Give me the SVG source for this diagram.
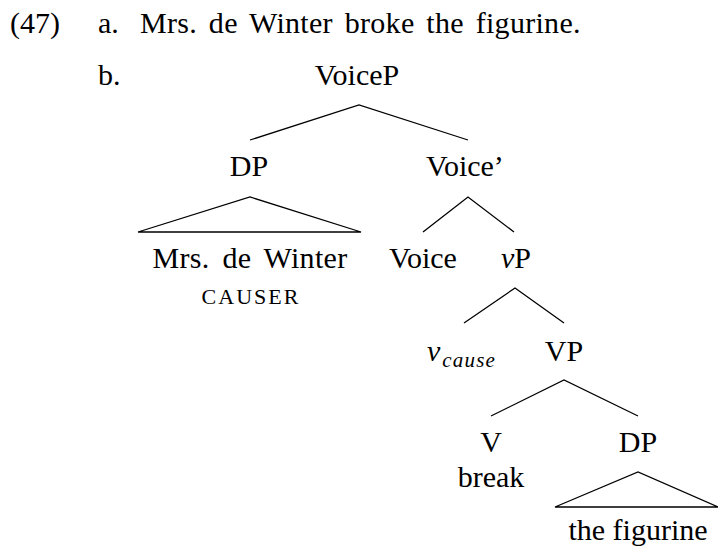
<svg xmlns="http://www.w3.org/2000/svg" width="718" height="548" viewBox="0 0 718 548">
  <style>
    text { font-family: "Liberation Serif", "Times New Roman", serif; font-size: 30px; fill: #000; }
    .c { text-anchor: middle; }
    .it { font-style: italic; }
    .sc { font-size: 22px; letter-spacing: 2px; }
    .sub { font-size: 21px; font-style: italic; letter-spacing: 1.2px; }
    .edge { stroke: #000; stroke-width: 1.3; fill: none; stroke-linejoin: miter; }
  </style>
  <rect width="718" height="548" fill="#fff"/>

  <!-- example number and sentence -->
  <g id="example">
    <text x="10" y="33">(47)</text>
    <text x="98" y="33">a.</text>
    <text x="140" y="33" letter-spacing="0.3" word-spacing="4">Mrs. de Winter broke the figurine.</text>
    <text x="98" y="85">b.</text>
  </g>

  <!-- tree branches -->
  <g id="connectors" class="edge">
    <polyline class="edge" points="250,140 359,105 468,140"/>
    <polygon class="edge" points="138,232 250,197 361,232"/>
    <polyline class="edge" points="423,232 468,197 514,232"/>
    <polyline class="edge" points="464,323 515,288 564,323"/>
    <polyline class="edge" points="491,416 564,380 638,416"/>
    <polygon class="edge" points="555,507 638,472 718,507"/>
  </g>

  <g id="node-voicep"><text class="c" x="357" y="85">VoiceP</text></g>
  <g id="node-dp1"><text class="c" x="249" y="176">DP</text></g>
  <g id="node-voicebar"><text class="c" x="465" y="176">Voice’</text></g>
  <g id="node-mrs">
    <text class="c" x="250" y="268" letter-spacing="0.3" word-spacing="5">Mrs. de Winter</text>
    <text class="c sc" x="251" y="304">CAUSER</text>
  </g>
  <g id="node-voice"><text class="c" x="423" y="268">Voice</text></g>
  <g id="node-vp-small"><text class="c" x="516" y="268"><tspan class="it">v</tspan>P</text></g>
  <g id="node-vcause">
    <text x="427" y="361"><tspan class="it">v</tspan><tspan class="sub" dx="2" dy="6">cause</tspan></text>
  </g>
  <g id="node-vp"><text class="c" x="564" y="361">VP</text></g>
  <g id="node-v">
    <text class="c" x="491" y="452">V</text>
    <text class="c" x="491" y="487">break</text>
  </g>
  <g id="node-dp2"><text class="c" x="638" y="452">DP</text></g>
  <g id="node-figurine"><text class="c" x="638" y="540">the figurine</text></g>
</svg>
